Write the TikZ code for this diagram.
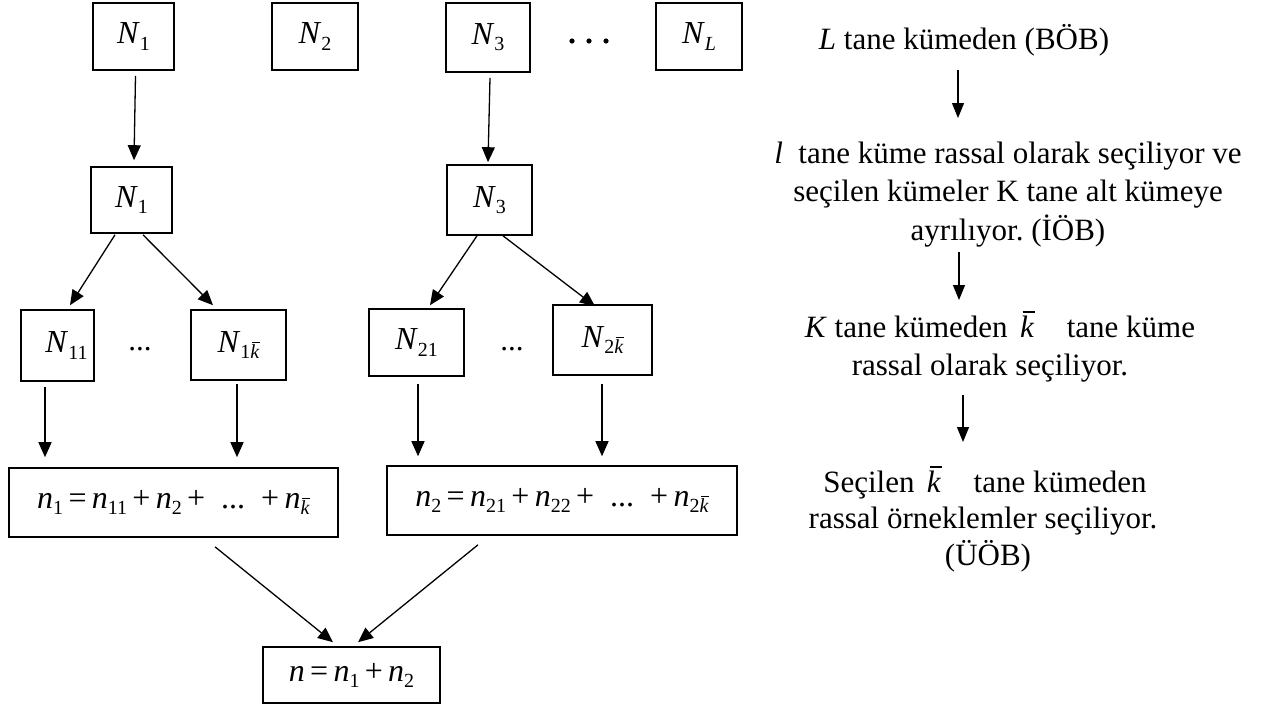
\documentclass[tikz,border=0pt]{standalone}
\usepackage{fontspec}
\setmainfont{Liberation Serif}
\usetikzlibrary{arrows.meta,calc}
\frenchspacing
\newcommand{\vi}[1]{\textit{#1}}
\newcommand{\sbs}[1]{\raisebox{-0.19em}{\fontsize{20}{20}\selectfont #1}}
\newcommand{\kbar}{{\setbox0\hbox{\textit{k}}\vbox{\offinterlineskip\hbox to\wd0{\hskip0.18\wd0\vrule height 0.055em depth 0pt width 0.85\wd0\hss}\kern0.08em\box0}}}
\tikzset{
  box/.style={draw, line width=1.6pt, inner sep=0pt, font=\fontsize{32}{32}\selectfont},
  arr/.style={line width=1.3pt, -{Triangle[length=15pt,width=13pt]}},
  rarr/.style={line width=1.2pt, -{Triangle[length=15pt,width=12pt]}},
  txt/.style={anchor=base, inner sep=0pt, font=\fontsize{31}{31}\selectfont},
  dotsty/.style={anchor=base, inner sep=0pt, font=\fontsize{31}{31}\selectfont},
}
\begin{document}
\begin{tikzpicture}[x=1pt,y=-1pt]
\useasboundingbox (0,0) rectangle (1268,716);
% top row
\node[box, minimum width=81pt, minimum height=67pt] (t1) at (133.5,36.5) {\vi{N}\sbs{1}};
\node[box, minimum width=86pt, minimum height=67pt] (t2) at (315,36.5) {\vi{N}\sbs{2}};
\node[box, minimum width=84pt, minimum height=69pt] (t3) at (488,37.5) {\vi{N}\sbs{3}};
\node[box, minimum width=86pt, minimum height=67pt] (tL) at (699,36.5) {\vi{N}\sbs{\vi{L}}};
\fill (572,41) circle (2.6pt) (589,41) circle (2.6pt) (606,41) circle (2.6pt);
% second row
\node[box, minimum width=81pt, minimum height=66pt] (m1) at (131.5,200) {\vi{N}\sbs{1}};
\node[box, minimum width=85pt, minimum height=70pt] (m3) at (489.5,200) {\vi{N}\sbs{3}};
% third row
\node[box, minimum width=73pt, minimum height=71pt] (N11) at (57.5,345.5) {\hspace*{18pt}\vi{N}\sbs{11}};
\node[dotsty] (d1) at (140,350) {...};
\node[box, minimum width=95pt, minimum height=70pt] (N1k) at (238.5,345) {\vi{N}\sbs{1\kbar}};
\node[box, minimum width=95pt, minimum height=67pt] (N21) at (416.5,342.5) {\vi{N}\sbs{21}};
\node[dotsty] (d2) at (512,350) {...};
\node[box, minimum width=99pt, minimum height=70pt] (N2k) at (602.5,340) {\vi{N}\sbs{2\kbar}};
% sums
\node[box, minimum width=329pt, minimum height=69pt] (n1) at (173.5,502.5)
  {\vi{n}\sbs{1}\,=\,\vi{n}\sbs{11}\,+\,\vi{n}\sbs{2}\,+\ \ ...\ \ +\,\vi{n}\sbs{\kbar}};
\node[box, minimum width=350pt, minimum height=69pt] (n2) at (562,500.5)
  {\vi{n}\sbs{2}\,=\,\vi{n}\sbs{21}\,+\,\vi{n}\sbs{22}\,+\ \ ...\ \ +\,\vi{n}\sbs{2\kbar}};
\node[box, minimum width=177pt, minimum height=56pt] (n) at (351.5,675)
  {\vi{n}\,=\,\vi{n}\sbs{1}\,+\,\vi{n}\sbs{2}};
% connectors
\draw[arr] ($(t1.south)+(2,5)$) -- ($(m1.north)+(2.5,-6)$);
\draw[arr] ($(t3.south)+(2,5)$) -- ($(m3.north)+(-1.5,-2)$);
\draw[arr] ($(m1.south)+(-16.5,1)$) -- ($(N11.north)+(12.5,-4)$);
\draw[arr] ($(m1.south)+(11.5,1)$) -- ($(N1k.north)+(-25.5,-4)$);
\draw[arr] ($(m3.south)+(-12.5,0)$) -- ($(N21.north)+(13.5,-3)$);
\draw[arr] ($(m3.south)+(13.5,0)$) -- ($(N2k.north)+(-7.5,2)$);
\draw[arr] ($(N11.south)+(-12.5,5)$) -- ($(n1.north)+(-128.5,-10)$);
\draw[arr] ($(N1k.south)+(-1.5,3)$) -- ($(n1.north)+(63.5,-10)$);
\draw[arr] ($(N21.south)+(1.5,7)$) -- ($(n2.north)+(-144,-9)$);
\draw[arr] ($(N2k.south)+(-0.5,8)$) -- ($(n2.north)+(40,-9)$);
\draw[arr] ($(n1.south)+(41.5,9)$) -- ($(n.north)+(-18.5,-4)$);
\draw[arr] ($(n2.south)+(-84,9)$) -- ($(n.north)+(6.5,-4)$);
% right column text
\node[txt] (L1) at (964,49) {\vi{L} tane kümeden (BÖB)};
\node[txt] (l1) at (1008,163) {\vi{l}\hspace{0.25em} tane küme rassal olarak seçiliyor ve};
\node[txt] (l2) at (1008,201) {seçilen kümeler K tane alt kümeye};
\node[txt] (l3) at (1008,240) {ayrılıyor. (İÖB)};
\node[txt] (k1) at (1000,337) {\vi{K} tane kümeden\hspace{0.4em}\kbar\hspace{0.8em} tane küme};
\node[txt] (k2) at (990,375) {rassal olarak seçiliyor.};
\node[txt] (s1) at (985,492) {Seçilen\hspace{0.4em}\kbar\hspace{0.8em} tane kümeden};
\node[txt] (s2) at (983,528) {rassal örneklemler seçiliyor.};
\node[txt] (s3) at (988,565) {(ÜÖB)};
\coordinate (r1s) at (958,70);
\coordinate (r1e) at (958,118);
\coordinate (r2s) at (959,252);
\coordinate (r2e) at (959,300);
\coordinate (r3s) at (963,395);
\coordinate (r3e) at (963,442);
\draw[rarr] (r1s) -- (r1e);
\draw[rarr] (r2s) -- (r2e);
\draw[rarr] (r3s) -- (r3e);
\end{tikzpicture}
\end{document}
